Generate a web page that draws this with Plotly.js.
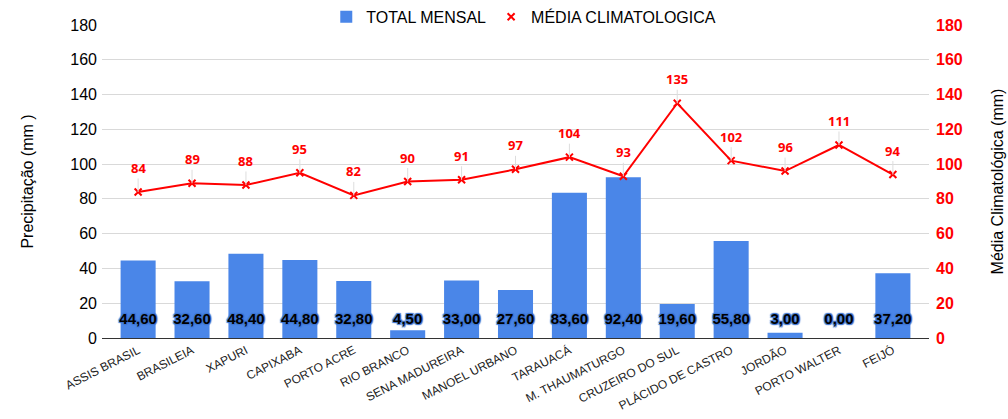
<!DOCTYPE html>
<html><head><meta charset="utf-8">
<script src="https://cdn.plot.ly/plotly-3.0.1.min.js"></script>
<style>body{margin:0;background:#fff}#c{width:1008px;height:419px}</style>
</head><body><div id="c"></div>
<script>
const categories = ["ASSIS BRASIL","BRASILEIA","XAPURI","CAPIXABA","PORTO ACRE","RIO BRANCO","SENA MADUREIRA","MANOEL URBANO","TARAUACÁ","M. THAUMATURGO","CRUZEIRO DO SUL","PLÁCIDO DE CASTRO","JORDÃO","PORTO WALTER","FEIJÓ"];
const totalMensal = [44.6,32.6,48.4,44.8,32.8,4.5,33.0,27.6,83.6,92.4,19.6,55.8,3.0,0.0,37.2];
const mediaClimatologica = [84,89,88,95,82,90,91,97,104,93,135,102,96,111,94];
const tickVals = [0,20,40,60,80,100,120,140,160,180];

const fmt = v => v.toFixed(2).replace('.', ',');
const labelY = categories.map(() => 10);

const traces = [
  {type:'bar', x:categories, y:totalMensal, name:'TOTAL MENSAL', marker:{color:'#4a86e8'}, width:0.65, hoverinfo:'none'},
  {type:'scatter', mode:'text', x:categories, y:labelY, text:totalMensal.map(fmt), showlegend:false, hoverinfo:'none',
   textfont:{family:'Liberation Sans, Arial', size:15, color:'#000', weight:'bold',
     shadow:'1px 1px 1px #3d74d0, -1px -1px 1px #3d74d0, 1px -1px 1px #3d74d0, -1px 1px 1px #3d74d0'}},
  {type:'scatter', mode:'lines+markers', x:categories, y:mediaClimatologica, name:'MÉDIA CLIMATOLOGICA', yaxis:'y2', showlegend:false,
   line:{color:'#ff0000', width:2}, marker:{symbol:'x-thin-open', size:7, color:'#ff0000', line:{width:2, color:'#ff0000'}}, hoverinfo:'none'},
  {type:'scatter', mode:'markers', x:[null], y:[null], name:'MÉDIA CLIMATOLOGICA', yaxis:'y2',
   marker:{symbol:'x-thin-open', size:7, color:'#ff0000', line:{width:2, color:'#ff0000'}}, hoverinfo:'none'}
];

const annotations = categories.map((c,i) => ({
  x:c, y:mediaClimatologica[i], xref:'x', yref:'y2', text:String(mediaClimatologica[i]),
  showarrow:true, arrowhead:0, arrowwidth:1, arrowcolor:'#dddddd', ax:0, ay:-24, standoff:0,
  font:{family:'Noto Sans, Liberation Sans', size:13, color:'#ff0000', weight:'bold'}
}));

const layout = {
  width:1008, height:419,
  margin:{l:102, r:79, t:25, b:81, autoexpand:false},
  paper_bgcolor:'#fff', plot_bgcolor:'#fff',
  font:{family:'Liberation Sans, Arial', color:'#000'},
  showlegend:true,
  legend:{orientation:'h', x:0.51, xanchor:'center', y:1.026, yanchor:'middle', font:{size:16}, itemwidth:30, tracegroupgap:0, bgcolor:'rgba(0,0,0,0)'},
  bargap:0.35,
  xaxis:{type:'category', range:[-0.67,14.67], tickangle:-27, tickfont:{size:12, color:'#222'}, showline:true, linecolor:'#333', linewidth:1, ticks:'', showgrid:false, automargin:false},
  yaxis:{range:[0,180], tickvals:tickVals, tickfont:{size:16, color:'#000'}, gridcolor:'#d9d9d9', zeroline:false, ticks:'', ticklen:0, ticklabelstandoff:4,
    title:{text:'Precipitação (mm )', font:{size:16}, standoff:32}},
  yaxis2:{range:[0,180], tickvals:tickVals, overlaying:'y', side:'right', showgrid:false, zeroline:false, ticklabelstandoff:6,
    tickfont:{size:16, color:'#ff0000', weight:'bold'},
    title:{text:'Média Climatológica (mm)', font:{size:16, color:'#000'}, standoff:30}},
  annotations:annotations
};
Plotly.newPlot('c', traces, layout, {displayModeBar:false, staticPlot:true});
</script></body></html>
